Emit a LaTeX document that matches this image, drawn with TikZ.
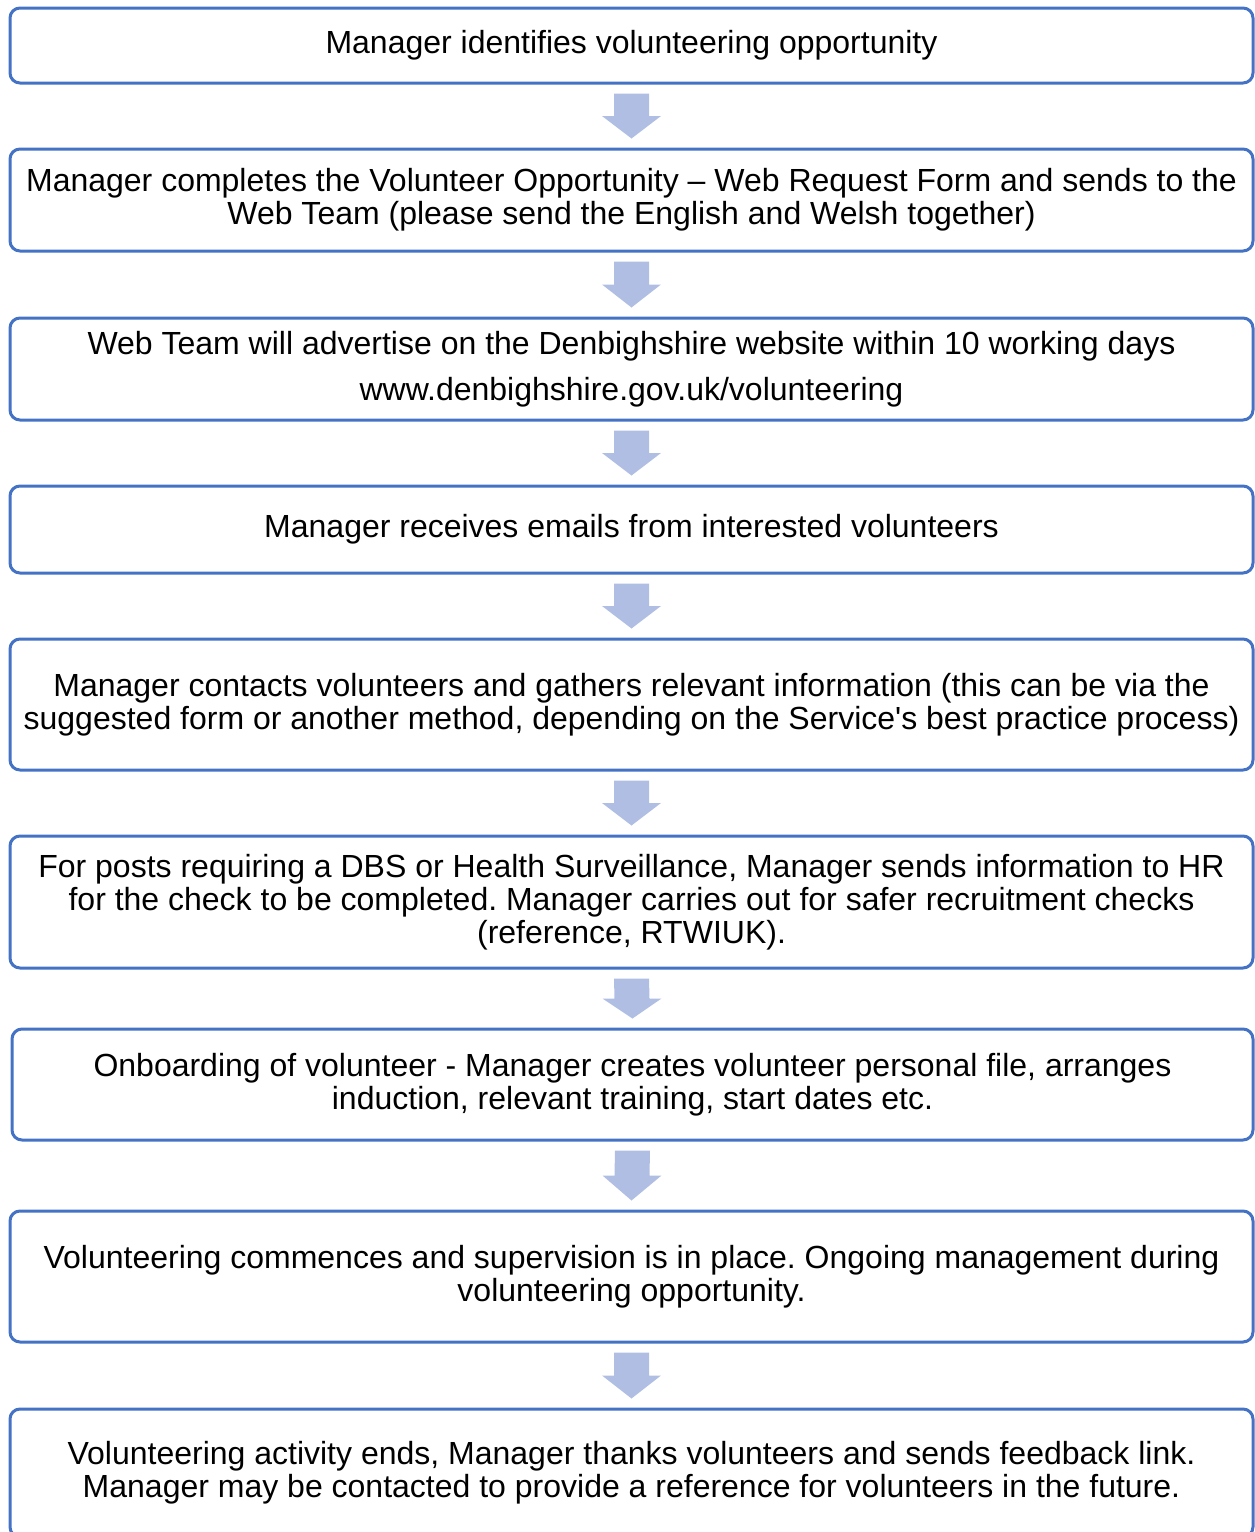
\documentclass[tikz,border=0pt]{standalone}
\usepackage{fontspec}
\setmainfont{Liberation Sans}
\usetikzlibrary{positioning, calc}
\definecolor{boxblue}{HTML}{4472C4}
\definecolor{arrowblue}{HTML}{B0BEE3}
\tikzset{stepbox/.style = {draw=boxblue, line width=1.5pt, rounded corners=5pt,
    minimum width=621.5pt, inner sep=0pt, align=center,
    font=\fontsize{16}{16.5}\selectfont\frenchspacing}}
\tikzset{flowarrow/.style = {fill=arrowblue, draw=none}}

% block arrow from the bottom of one box to the top of the next
\newcommand{\blockarrow}[2]{%
    \coordinate (top) at ($(#1.south)+(0,-4.5pt)$);
    \coordinate (tip) at ($(#2.north)+(0,4.5pt)$);
    \coordinate (mid) at ($(top)!0.5!(tip)$);
    \fill[flowarrow] ($(top)+(-8.75pt,0)$) -- ($(top)+(8.75pt,0)$)
        -- ($(mid)+(8.75pt,0)$) -- ($(mid)+(14.75pt,0)$) -- (tip)
        -- ($(mid)+(-14.75pt,0)$) -- ($(mid)+(-8.75pt,0)$) -- cycle;
}

\begin{document}
\begin{tikzpicture}[x=0.5pt, y=-0.5pt]
            \useasboundingbox (0,0) rectangle (1254,1532);

            \node [stepbox, minimum height=37.5pt] (s1) at (631.5,  45.5)
                {Manager identifies volunteering opportunity};
            \node [stepbox, minimum height=51pt]   (s2) at (631.5, 200)
                {Manager completes the Volunteer Opportunity -- Web Request Form and sends to the\\
                 Web Team (please send the English and Welsh together)};
            \node [stepbox, minimum height=51pt]   (s3) at (631.5, 369)
                {Web Team will advertise on the Denbighshire website within 10 working days\\[6.5pt]
                 www.denbighshire.gov.uk/volunteering};
            \node [stepbox, minimum height=43.5pt] (s4) at (631.5, 529.5)
                {Manager receives emails from interested volunteers};
            \node [stepbox, minimum height=65.5pt] (s5) at (631.5, 704.5)
                {Manager contacts volunteers and gathers relevant information (this can be via the\\
                 suggested form or another method, depending on the Service\textquotesingle s best practice process)};
            \node [stepbox, minimum height=66pt]   (s6) at (631.5, 902)
                {For posts requiring a DBS or Health Surveillance, Manager sends information to HR\\
                 for the check to be completed. Manager carries out for safer recruitment checks\\
                 (reference, RTWIUK).};
            \node [stepbox, minimum height=55.5pt, minimum width=620.5pt] (s7) at (632.5, 1084.5)
                {Onboarding of volunteer - Manager creates volunteer personal file, arranges\\
                 induction, relevant training, start dates etc.};
            \node [stepbox, minimum height=65.5pt] (s8) at (631.5, 1276.5)
                {Volunteering commences and supervision is in place. Ongoing management during\\
                 volunteering opportunity.};
            \node [stepbox, minimum height=64pt]   (s9) at (631.5, 1473)
                {Volunteering activity ends, Manager thanks volunteers and sends feedback link.\\
                 Manager may be contacted to provide a reference for volunteers in the future.};

            \foreach \a/\b in {s1/s2, s2/s3, s3/s4, s4/s5, s5/s6, s6/s7, s7/s8, s8/s9}
                {\blockarrow{\a}{\b}}
        \end{tikzpicture}
\end{document}
